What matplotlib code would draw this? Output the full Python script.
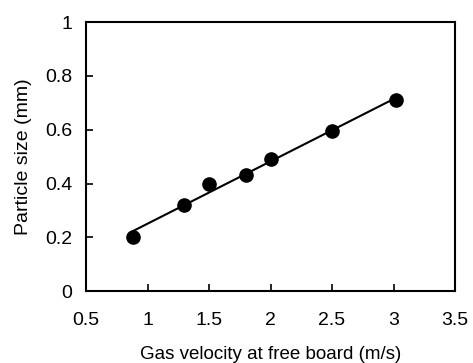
import numpy as np
import matplotlib
matplotlib.use("Agg")
import matplotlib.pyplot as plt

plt.rcParams['font.family'] = ['Liberation Sans', 'DejaVu Sans']

velocity = [0.88, 1.3, 1.5, 1.8, 2.0, 2.5, 3.02]
particle_size = [0.20, 0.32, 0.40, 0.43, 0.49, 0.595, 0.71]
x_ticks = [0.5, 1, 1.5, 2, 2.5, 3, 3.5]
x_tick_labels = ['0.5', '1', '1.5', '2', '2.5', '3', '3.5']
y_ticks = [0, 0.2, 0.4, 0.6, 0.8, 1]
y_tick_labels = ['0', '0.2', '0.4', '0.6', '0.8', '1']

fig = plt.figure(figsize=(4.73, 3.63), dpi=100)
ax = fig.add_axes([0.182, 0.198, 0.780, 0.741])

coef = np.polyfit(velocity, particle_size, 1)
fx = np.array([min(velocity), max(velocity)])
ax.plot(fx, np.polyval(coef, fx), color='black', lw=1.5, zorder=2)
ax.plot(velocity, particle_size, 'o', color='black', ms=9.5, zorder=3)

ax.set_xlim(0.5, 3.5)
ax.set_ylim(0, 1)
ax.set_xticks(x_ticks)
ax.set_xticklabels(x_tick_labels)
ax.set_yticks(y_ticks)
ax.set_yticklabels(y_tick_labels)
ax.tick_params(direction='in', length=5, width=1.2, labelsize=14)
ax.tick_params(axis='x', pad=15)
ax.tick_params(axis='y', pad=10)
for s in ax.spines.values():
    s.set_linewidth(1.5)
ax.set_xlabel('Gas velocity at free board (m/s)', fontsize=13.5, labelpad=12)
ax.set_ylabel('Particle size (mm)', fontsize=14, labelpad=9)

fig.savefig('out.png', dpi=100)
